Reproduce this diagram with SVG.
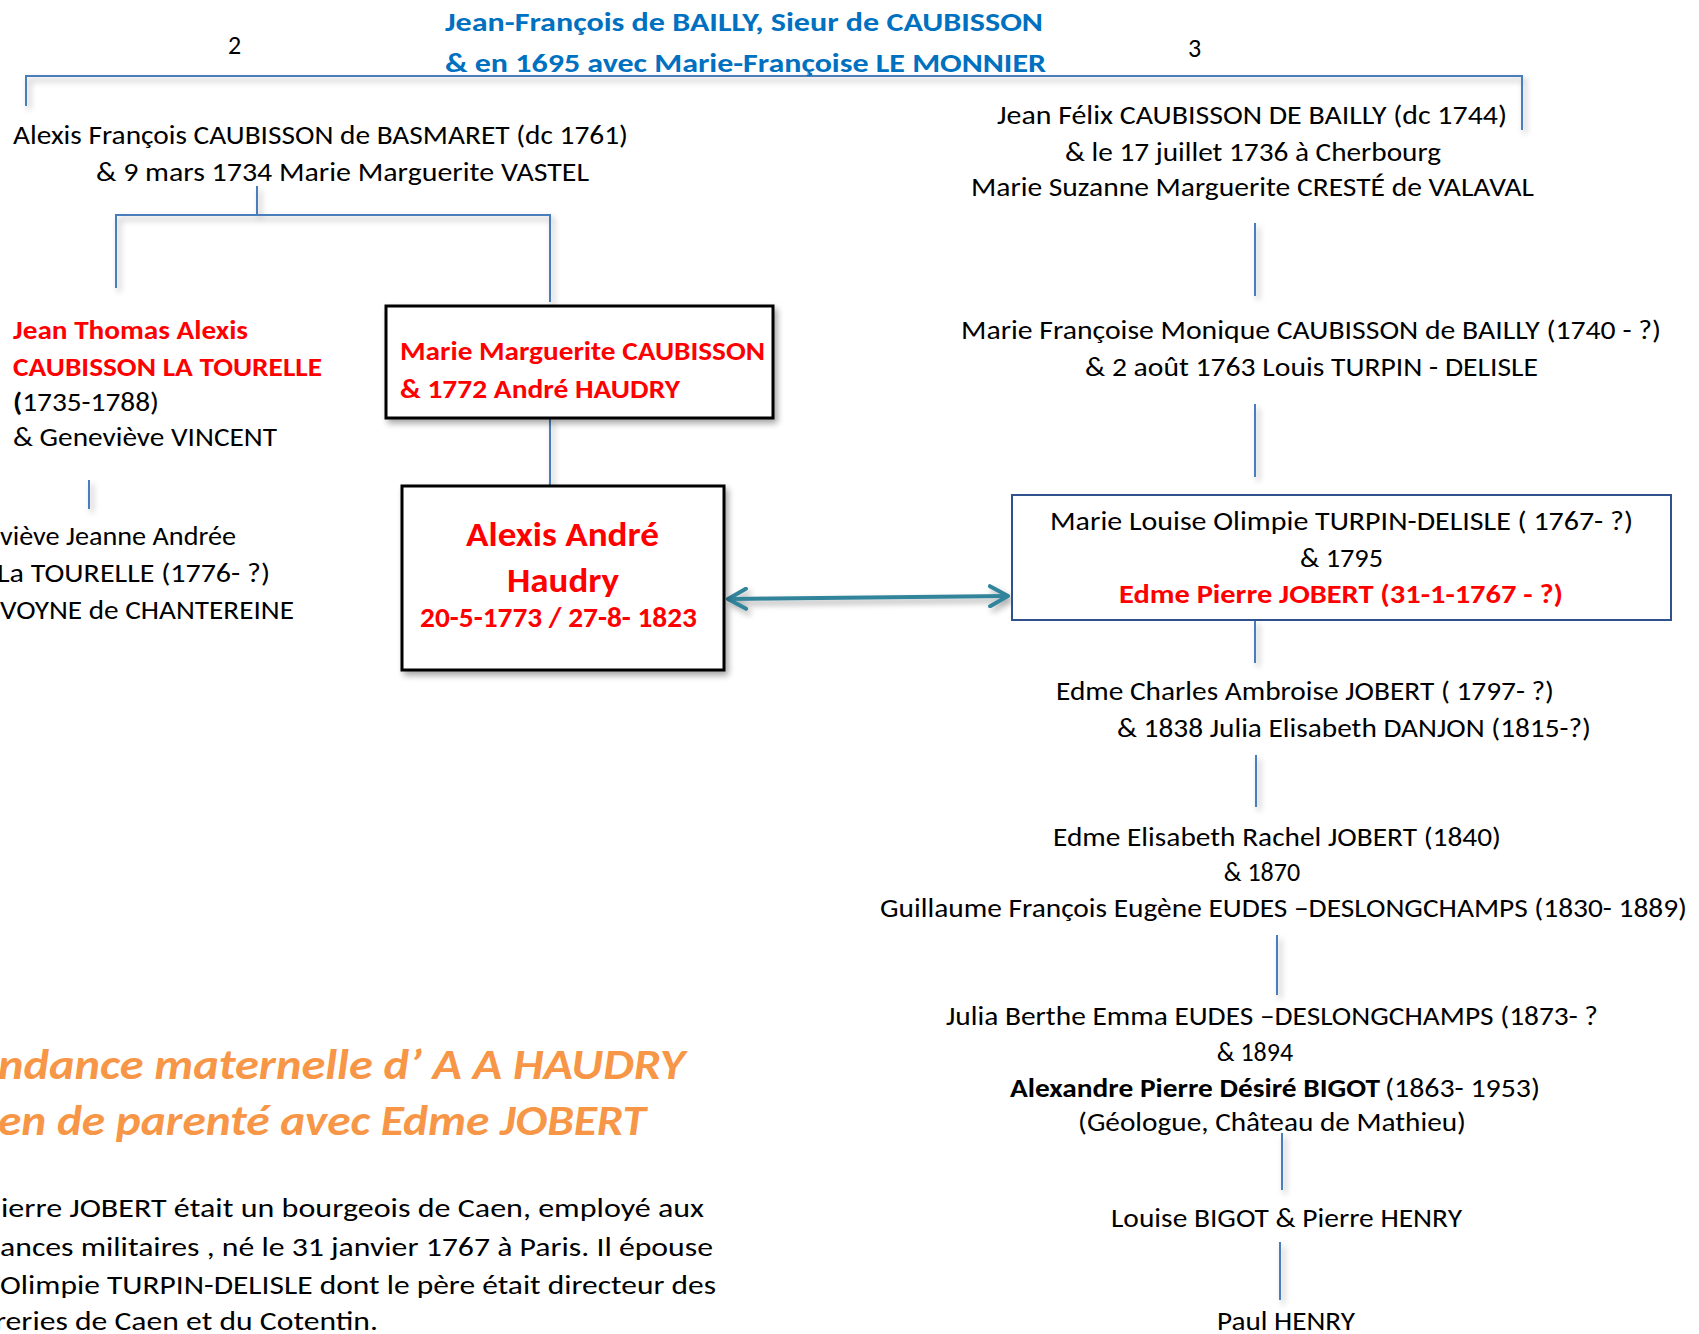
<svg xmlns="http://www.w3.org/2000/svg" width="1699" height="1334" viewBox="0 0 1699 1334">
<style>
text{font-family:Carlito,Lato,"Liberation Sans",sans-serif;font-size:26px;fill:#000}
.t{font-weight:bold;fill:#0070C0;font-size:27px}
.r{font-weight:bold;fill:#FF0000}
.b{font-weight:bold}
.o{font-weight:bold;font-style:italic;fill:#F79646;font-size:43px}
.m{text-anchor:middle}
.ln{stroke:#4A7EBB;stroke-width:2;fill:none}
.box{fill:#fff;stroke:#000;stroke-width:3}
.bbox{fill:#fff;stroke:#2F528F;stroke-width:2}
</style>
<defs>
<filter id="sh" x="-10%" y="-10%" width="130%" height="130%">
<feGaussianBlur in="SourceAlpha" stdDeviation="3"/>
<feOffset dx="3" dy="4" result="o"/>
<feComponentTransfer><feFuncA type="linear" slope="0.35"/></feComponentTransfer>
<feMerge><feMergeNode/><feMergeNode in="SourceGraphic"/></feMerge>
</filter>
<marker id="ah" viewBox="0 0 12 12" refX="10" refY="6" markerWidth="6" markerHeight="6" orient="auto-start-reverse" markerUnits="strokeWidth">
<path d="M1,1 L10,6 L1,11" fill="none" stroke="#31849B" stroke-width="2" stroke-linecap="round" stroke-linejoin="round"/>
</marker>
</defs>
<rect width="1699" height="1334" fill="#fff"/>

<g id="connectors" filter="url(#sh)">
<path class="ln" d="M26,106 V76 H1522 V130"/>
<path class="ln" d="M257,186 V215 M116,288 V215 H550 V302"/>
<path class="ln" d="M550,418 V488"/>
<path class="ln" d="M89,480 V509"/>
<path class="ln" d="M1255,223 V296 M1255,404 V477 M1255,620 V663 M1256,755 V807 M1277,935 V995 M1282,1133 V1190 M1280,1242 V1300"/>
<line x1="728" y1="599" x2="1008" y2="596" stroke="#31849B" stroke-width="4" marker-start="url(#ah)" marker-end="url(#ah)"/>
</g>

<g id="root">
<text class="t" x="445" y="31" textLength="598" lengthAdjust="spacingAndGlyphs">Jean-François de BAILLY, Sieur de CAUBISSON</text>
<text class="t" x="445" y="72" textLength="601" lengthAdjust="spacingAndGlyphs">&amp; en 1695 avec Marie-Françoise LE MONNIER</text>
</g>
<g id="label-2"><text x="228" y="54">2</text></g>
<g id="label-3"><text x="1188" y="57">3</text></g>

<g id="alexis-francois">
<text x="13" y="144" textLength="615" lengthAdjust="spacingAndGlyphs">Alexis François CAUBISSON de BASMARET (dc 1761)</text>
<text x="96" y="181" textLength="493" lengthAdjust="spacingAndGlyphs">&amp; 9 mars 1734  Marie Marguerite VASTEL</text>
</g>

<g id="jean-thomas">
<text class="r" x="13" y="339" textLength="235" lengthAdjust="spacingAndGlyphs">Jean Thomas Alexis</text>
<text class="r" x="13" y="376" textLength="309" lengthAdjust="spacingAndGlyphs">CAUBISSON LA TOURELLE</text>
<text x="13" y="411" textLength="146" lengthAdjust="spacingAndGlyphs"><tspan class="b">(</tspan>1735-1788)</text>
<text x="13" y="446" textLength="264" lengthAdjust="spacingAndGlyphs">&amp; Geneviève VINCENT</text>
</g>

<g id="genevieve-jeanne">
<text x="0" y="545" textLength="236" lengthAdjust="spacingAndGlyphs">viève Jeanne Andrée</text>
<text x="-3" y="582" textLength="273" lengthAdjust="spacingAndGlyphs">La TOURELLE  (1776- ?)</text>
<text x="0" y="619" textLength="294" lengthAdjust="spacingAndGlyphs">VOYNE de CHANTEREINE</text>
</g>

<g id="marie-marguerite">
<rect class="box" x="386" y="306" width="387" height="112" filter="url(#sh)"/>
<text class="r" x="400" y="360" textLength="365" lengthAdjust="spacingAndGlyphs">Marie Marguerite CAUBISSON</text>
<text class="r" x="400" y="398" textLength="280" lengthAdjust="spacingAndGlyphs">&amp; 1772 André HAUDRY</text>
</g>

<g id="alexis-andre">
<rect class="box" x="402" y="486" width="322" height="184" filter="url(#sh)"/>
<text class="r" x="466" y="546" style="font-size:35px" textLength="193" lengthAdjust="spacingAndGlyphs">Alexis André</text>
<text class="r" x="507" y="592" style="font-size:35px" textLength="112" lengthAdjust="spacingAndGlyphs">Haudry</text>
<text class="r" x="420" y="627" style="font-size:28px" textLength="277" lengthAdjust="spacingAndGlyphs">20-5-1773 / 27-8- 1823</text>
</g>

<g id="jean-felix">
<text x="997" y="124" textLength="510" lengthAdjust="spacingAndGlyphs">Jean Félix CAUBISSON DE BAILLY  (dc 1744)</text>
<text x="1065" y="161" textLength="376" lengthAdjust="spacingAndGlyphs">&amp; le 17 juillet 1736 à Cherbourg</text>
<text x="971" y="196" textLength="563" lengthAdjust="spacingAndGlyphs">Marie Suzanne Marguerite CRESTÉ de VALAVAL</text>
</g>

<g id="marie-francoise">
<text x="961" y="339" textLength="700" lengthAdjust="spacingAndGlyphs">Marie Françoise Monique  CAUBISSON de BAILLY (1740 - ?)</text>
<text x="1085" y="376" textLength="453" lengthAdjust="spacingAndGlyphs">&amp; 2 août 1763  Louis TURPIN - DELISLE</text>
</g>

<g id="marie-louise">
<rect class="bbox" x="1012" y="495" width="659" height="125"/>
<text x="1050" y="530" textLength="583" lengthAdjust="spacingAndGlyphs">Marie Louise Olimpie  TURPIN-DELISLE  ( 1767- ?)</text>
<text x="1300" y="567" textLength="83" lengthAdjust="spacingAndGlyphs">&amp; 1795</text>
<text class="r" x="1119" y="603" textLength="444" lengthAdjust="spacingAndGlyphs">Edme Pierre JOBERT   (31-1-1767 - ?)</text>
</g>

<g id="edme-charles">
<text x="1056" y="700" textLength="498" lengthAdjust="spacingAndGlyphs">Edme Charles Ambroise JOBERT ( 1797- ?)</text>
<text x="1117" y="737" textLength="474" lengthAdjust="spacingAndGlyphs">&amp; 1838 Julia Elisabeth DANJON (1815-?)</text>
</g>

<g id="edme-elisabeth">
<text x="1053" y="846" textLength="448" lengthAdjust="spacingAndGlyphs">Edme Elisabeth Rachel JOBERT (1840)</text>
<text class="m" x="1262" y="881">&amp; 1870</text>
<text x="880" y="917" textLength="807" lengthAdjust="spacingAndGlyphs">Guillaume François Eugène EUDES –DESLONGCHAMPS (1830- 1889)</text>
</g>

<g id="julia-berthe">
<text x="946" y="1025" textLength="652" lengthAdjust="spacingAndGlyphs">Julia Berthe Emma EUDES –DESLONGCHAMPS (1873- ?</text>
<text class="m" x="1255" y="1061">&amp; 1894</text>
<text y="1097"><tspan class="b" x="1010" textLength="370" lengthAdjust="spacingAndGlyphs">Alexandre Pierre Désiré BIGOT</tspan><tspan x="1385" textLength="155" lengthAdjust="spacingAndGlyphs">(1863- 1953)</tspan></text>
<text x="1078" y="1131" textLength="388" lengthAdjust="spacingAndGlyphs">(Géologue, Château de Mathieu)</text>
</g>

<g id="louise-bigot">
<text x="1111" y="1227" textLength="351" lengthAdjust="spacingAndGlyphs">Louise BIGOT &amp; Pierre HENRY</text>
</g>

<g id="paul-henry">
<text x="1217" y="1330" textLength="138" lengthAdjust="spacingAndGlyphs">Paul HENRY</text>
</g>

<g id="title-note">
<text class="o" x="-2" y="1079" textLength="687" lengthAdjust="spacingAndGlyphs">ndance maternelle d’ A A HAUDRY</text>
<text class="o" x="-2" y="1135" textLength="648" lengthAdjust="spacingAndGlyphs">en de parenté avec Edme JOBERT</text>
</g>

<g id="paragraph">
<text x="1" y="1217" style="font-size:27px" textLength="703" lengthAdjust="spacingAndGlyphs">ierre JOBERT était un bourgeois de Caen, employé aux</text>
<text x="0" y="1256" style="font-size:27px" textLength="713" lengthAdjust="spacingAndGlyphs">ances militaires , né le 31 janvier 1767 à Paris. Il épouse</text>
<text x="0" y="1294" style="font-size:27px" textLength="716" lengthAdjust="spacingAndGlyphs">Olimpie TURPIN-DELISLE dont le père était directeur des</text>
<text x="-5" y="1330" style="font-size:27px" textLength="383" lengthAdjust="spacingAndGlyphs">reries de Caen et du Cotentin.</text>
</g>
</svg>
